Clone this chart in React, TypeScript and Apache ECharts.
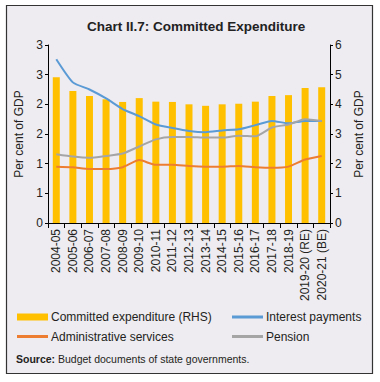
import React, { useEffect, useRef } from "react";
import * as echarts from "echarts";

const categories = [
  "2004-05", "2005-06", "2006-07", "2007-08", "2008-09", "2009-10", "2010-11",
  "2011-12", "2012-13", "2013-14", "2014-15", "2015-16", "2016-17", "2017-18",
  "2018-19", "2019-20 (RE)", "2020-21 (BE)",
];
const committedRHS = [4.91, 4.45, 4.28, 4.17, 4.08, 4.21, 4.09, 4.08, 4.0, 3.95, 4.0, 4.02, 4.09, 4.28, 4.31, 4.55, 4.58];
const interestPayments = [2.76, 2.37, 2.25, 2.1, 1.92, 1.8, 1.66, 1.6, 1.55, 1.53, 1.56, 1.58, 1.65, 1.72, 1.68, 1.72, 1.72];
const adminServices = [0.95, 0.94, 0.91, 0.91, 0.94, 1.06, 0.98, 0.98, 0.96, 0.95, 0.95, 0.96, 0.94, 0.93, 0.95, 1.07, 1.13];
const pension = [1.16, 1.12, 1.1, 1.13, 1.17, 1.29, 1.41, 1.45, 1.45, 1.44, 1.44, 1.47, 1.46, 1.61, 1.66, 1.75, 1.72];

const FONT = "'Liberation Sans', Arial, Helvetica, sans-serif";
const TXT = "#231f20";
const LINE_ICON = "path://M0,0H31V3H0Z";

export default function App() {
  const ref = useRef<HTMLDivElement>(null);
  useEffect(() => {
    if (!ref.current) return;
    const chart = echarts.init(ref.current, undefined, { renderer: "svg" });
    const legendText = { fontFamily: FONT, fontSize: 12, color: TXT, padding: [0, 0, 0, -2] };
    chart.setOption({
      animation: false,
      backgroundColor: "#ffffff",
      textStyle: { fontFamily: FONT, color: TXT },
      title: {
        text: "Chart II.7: Committed Expenditure",
        left: 82,
        top: 14,
        textStyle: { fontFamily: FONT, fontSize: 13.5, fontWeight: "bold", color: "#222" },
      },
      graphic: [
        {
          type: "rect",
          z: -10,
          shape: { x: 6.5, y: 5.5, width: 366, height: 368 },
          style: { fill: "#EEEBF1", stroke: "#333", lineWidth: 1.2 },
        },
        {
          type: "text",
          left: 16,
          top: 353,
          style: {
            text: "{b|Source:} Budget documents of state governments.",
            rich: {
              b: { fontWeight: "bold", fontSize: 10.5, fontFamily: FONT, fill: TXT },
            },
            fontSize: 10.5,
            fontFamily: FONT,
            fill: TXT,
          },
        },
      ],
      grid: { left: 48, right: 50, top: 45, bottom: 159, containLabel: false },
      legend: [
        {
          data: [
            { name: "Committed expenditure (RHS)", icon: "rect" },
            { name: "Administrative services", icon: LINE_ICON },
          ],
          orient: "vertical",
          left: 17,
          top: 311,
          itemWidth: 31,
          itemHeight: 7,
          itemGap: 7.5,
          padding: 0,
          textStyle: legendText,
        },
        {
          data: [
            { name: "Interest payments", icon: LINE_ICON },
            { name: "Pension", icon: LINE_ICON },
          ],
          orient: "vertical",
          left: 232,
          top: 311,
          itemWidth: 31,
          itemHeight: 7,
          itemGap: 7.5,
          padding: 0,
          textStyle: legendText,
        },
      ],
      xAxis: {
        type: "category",
        data: categories,
        boundaryGap: true,
        axisLine: { lineStyle: { color: "#000", width: 1 } },
        axisTick: { show: true, length: 5, lineStyle: { color: "#000" } },
        axisLabel: {
          rotate: 90,
          interval: 0,
          margin: 6,
          fontSize: 12,
          fontFamily: FONT,
          color: TXT,
        },
      },
      yAxis: [
        {
          type: "value",
          min: 0,
          max: 3,
          interval: 0.5,
          position: "left",
          name: "Per cent of GDP",
          nameLocation: "middle",
          nameRotate: 90,
          nameGap: 20,
          nameTextStyle: { fontSize: 12, fontFamily: FONT, color: TXT },
          axisLine: { show: true, lineStyle: { color: "#000" } },
          axisTick: { show: true, length: 3, lineStyle: { color: "#000" } },
          splitLine: { show: false },
          axisLabel: {
            fontSize: 12,
            fontFamily: FONT,
            color: TXT,
            margin: 5,
            formatter: (v: number) => String(Math.round(v + 1e-9)),
          },
        },
        {
          type: "value",
          min: 0,
          max: 6,
          interval: 1,
          position: "right",
          name: "Per cent of GDP",
          nameLocation: "middle",
          nameRotate: 90,
          nameGap: 20,
          nameTextStyle: { fontSize: 12, fontFamily: FONT, color: TXT },
          axisLine: { show: true, lineStyle: { color: "#000" } },
          axisTick: { show: true, length: 3, lineStyle: { color: "#000" } },
          splitLine: { show: false },
          axisLabel: { fontSize: 12, fontFamily: FONT, color: TXT, margin: 5 },
        },
      ],
      series: [
        {
          name: "Committed expenditure (RHS)",
          type: "bar",
          yAxisIndex: 1,
          data: committedRHS,
          barWidth: 7,
          itemStyle: { color: "#FFC000" },
          z: 1,
        },
        {
          name: "Interest payments",
          type: "line",
          yAxisIndex: 0,
          data: interestPayments,
          symbol: "none",
          smooth: 0.2,
          lineStyle: { color: "#5B9BD5", width: 2 },
          itemStyle: { color: "#5B9BD5" },
          z: 3,
        },
        {
          name: "Administrative services",
          type: "line",
          yAxisIndex: 0,
          data: adminServices,
          symbol: "none",
          smooth: 0.2,
          lineStyle: { color: "#ED7D31", width: 2 },
          itemStyle: { color: "#ED7D31" },
          z: 3,
        },
        {
          name: "Pension",
          type: "line",
          yAxisIndex: 0,
          data: pension,
          symbol: "none",
          smooth: 0.2,
          lineStyle: { color: "#A5A5A5", width: 2 },
          itemStyle: { color: "#A5A5A5" },
          z: 3,
        },
      ],
    });
    return () => chart.dispose();
  }, []);
  return (
    <div
      ref={ref}
      style={{ position: "absolute", left: 0, top: 0, width: 380, height: 382 }}
    />
  );
}
